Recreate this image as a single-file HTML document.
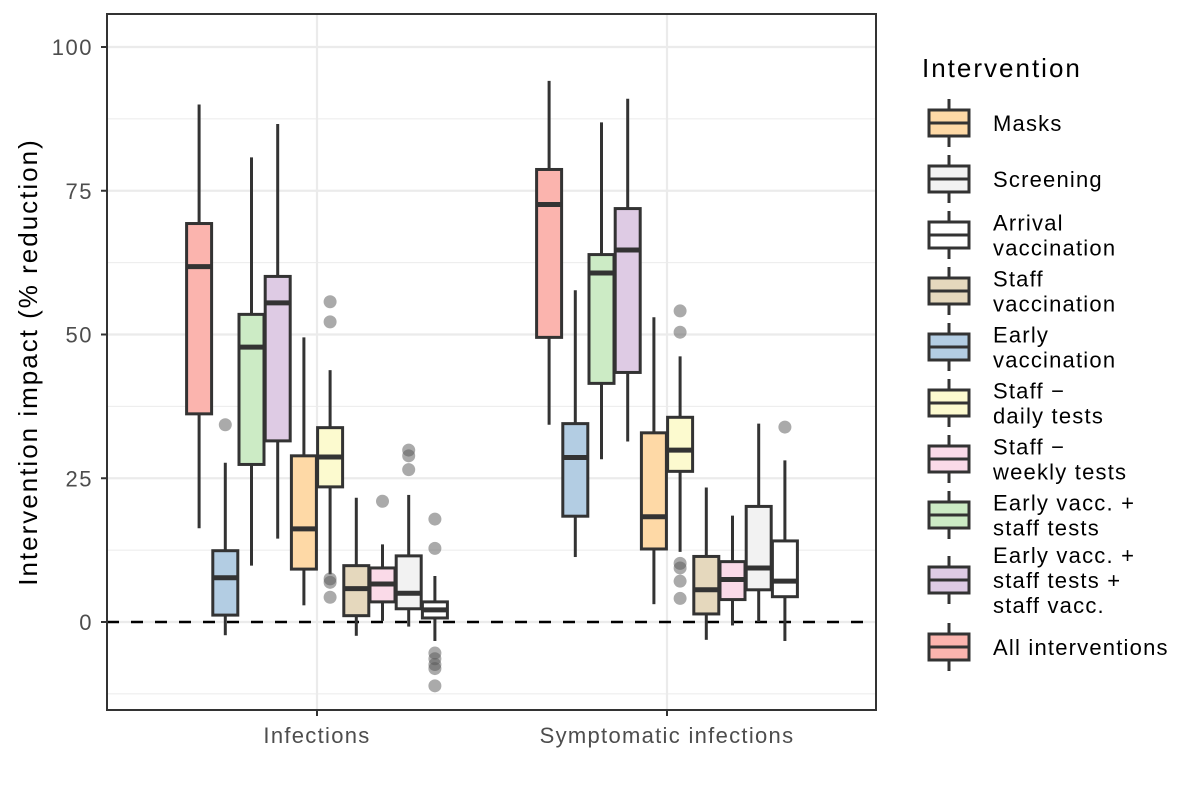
<!DOCTYPE html>
<html><head><meta charset="utf-8"><style>
body{margin:0;background:#fff;font-family:"Liberation Sans",Arial,sans-serif}
svg text{font-family:"Liberation Sans",Arial,sans-serif}
</style></head><body>
<svg id="chart" width="1200" height="800" xmlns="http://www.w3.org/2000/svg">
<rect x="0" y="0" width="1200" height="800" fill="#fff"/>
<g id="grid"></g><g id="marks"></g><g id="axes"></g><g id="legend"></g>
</svg>
<script>
const groups = ["Infections", "Symptomatic infections"];
const series = ["All interventions","Early vaccination","Early vacc. + staff tests","Early vacc. + staff tests + staff vacc.","Masks","Staff - daily tests","Staff vaccination","Staff - weekly tests","Screening","Arrival vaccination"];
const colors = ["#FBB4AE","#B3CDE3","#CCEBC5","#DECBE4","#FED9A6","#FCFACF","#E5D8BD","#FADAE8","#F2F2F2","#FFFFFF"];
// [whiskerLow, q1, median, q3, whiskerHigh]
const infectionsStats = [
 [16.3,36.2,61.8,69.3,90.0],
 [-2.3,1.2,7.7,12.4,27.7],
 [9.8,27.4,47.8,53.5,80.8],
 [14.5,31.5,55.5,60.1,86.6],
 [2.9,9.2,16.2,28.9,49.5],
 [8.3,23.5,28.7,33.8,43.8],
 [-2.4,1.1,5.8,9.8,21.6],
 [0.2,3.5,6.6,9.4,13.5],
 [-0.8,2.3,5.0,11.5,22.1],
 [-3.3,0.7,2.1,3.5,8.0]
];
const symptomaticStats = [
 [34.3,49.5,72.6,78.7,94.1],
 [11.3,18.4,28.6,34.5,57.7],
 [28.3,41.5,60.7,63.9,86.9],
 [31.4,43.4,64.7,71.9,91.0],
 [3.1,12.7,18.3,32.9,53.0],
 [12.2,26.2,29.9,35.6,46.2],
 [-3.1,1.4,5.6,11.4,23.4],
 [-0.6,3.9,7.4,10.5,18.5],
 [0.0,5.6,9.4,20.1,34.5],
 [-3.3,4.4,7.1,14.1,28.1]
];
const infectionsOutliers = [[],[34.3],[],[],[],[55.7,52.2,7.5,6.9,4.3],[],[21.0],[29.9,28.9,26.5],[17.9,12.8,-5.4,-6.4,-7.4,-8.1,-11.1]];
const symptomaticOutliers = [[],[],[],[],[],[54.1,50.4,10.2,9.4,7.1,4.1],[],[],[],[33.9]];
const yTicks = [0,25,50,75,100];
const yMinor = [-12.5,12.5,37.5,62.5,87.5];
const legendOrder = [4,8,9,6,1,5,7,2,3,0];
const legendLabels = [["Masks"],["Screening"],["Arrival","vaccination"],["Staff","vaccination"],["Early","vaccination"],["Staff \u2212","daily tests"],["Staff \u2212","weekly tests"],["Early vacc. +","staff tests"],["Early vacc. +","staff tests +","staff vacc."],["All interventions"]];

const NS="http://www.w3.org/2000/svg";
const PL=107,PR=876,PT=14,PB=710;
const y=v=>622-v*5.75;
const xGroup=g=>317+g*350;
const x=(g,i)=>xGroup(g)+(i-4.5)*26.2;
function mk(parent,tag,attrs){const e=document.createElementNS(NS,tag);for(const k in attrs)e.setAttribute(k,attrs[k]);parent.appendChild(e);return e;}
const grid=document.getElementById('grid'),marks=document.getElementById('marks'),axes=document.getElementById('axes'),legend=document.getElementById('legend');
let bg=mk(grid,'rect',{x:PL,y:PT,width:PR-PL,height:PB-PT,fill:'#fff'});


yMinor.forEach(v=>{let l=mk(grid,'line',{x1:PL,x2:PR,y1:y(v),y2:y(v),stroke:'#EBEBEB','stroke-width':1});

});
yTicks.forEach(v=>{let l=mk(grid,'line',{x1:PL,x2:PR,y1:y(v),y2:y(v),stroke:'#EBEBEB','stroke-width':2.2});

});
groups.forEach((g,gi)=>{let l=mk(grid,'line',{x1:xGroup(gi),x2:xGroup(gi),y1:PT,y2:PB,stroke:'#EBEBEB','stroke-width':2.2});

});
let zl=mk(grid,'line',{x1:PL,x2:PR,y1:y(0),y2:y(0),stroke:'#000','stroke-width':2.5,'stroke-dasharray':'12 12'});



[infectionsStats,symptomaticStats].forEach((stats,gi)=>{
 const outs=gi?symptomaticOutliers:infectionsOutliers;
 stats.forEach((s,i)=>{
  const cx=x(gi,i),w=25;
  const g=mk(marks,'g',{});
  
  
  mk(g,'line',{x1:cx,x2:cx,y1:y(s[4]),y2:y(s[3]),stroke:'#333','stroke-width':3});
  mk(g,'line',{x1:cx,x2:cx,y1:y(s[1]),y2:y(s[0]),stroke:'#333','stroke-width':3});
  mk(g,'rect',{x:cx-w/2,y:y(s[3]),width:w,height:y(s[1])-y(s[3]),fill:colors[i],stroke:'#333','stroke-width':3});
  mk(g,'line',{x1:cx-w/2,x2:cx+w/2,y1:y(s[2]),y2:y(s[2]),stroke:'#333','stroke-width':5});
  outs[i].forEach(o=>{let c=mk(marks,'circle',{cx:cx,cy:y(o),r:6.5,fill:'#555','fill-opacity':0.5});
  
  });
 });
});
let fr=mk(axes,'rect',{x:PL,y:PT,width:PR-PL,height:PB-PT,fill:'none',stroke:'#333','stroke-width':2});


yTicks.forEach(v=>{
 mk(axes,'line',{x1:PL-6,x2:PL,y1:y(v),y2:y(v),stroke:'#333','stroke-width':2});
 let t=mk(axes,'text',{x:PL-14,y:y(v)+8,'text-anchor':'end','font-size':22,'letter-spacing':1.5,fill:'#4D4D4D'});t.textContent=v;
 
 
});
groups.forEach((g,gi)=>{
 mk(axes,'line',{x1:xGroup(gi),x2:xGroup(gi),y1:PB,y2:PB+6,stroke:'#333','stroke-width':2});
 let t=mk(axes,'text',{x:xGroup(gi),y:743,'text-anchor':'middle','font-size':22,'letter-spacing':1.3,fill:'#4D4D4D'});t.textContent=g;
 
 
});
let yt=mk(axes,'text',{x:0,y:0,transform:'translate(37,362) rotate(-90)','text-anchor':'middle','font-size':26,'letter-spacing':2,fill:'#000'});
yt.textContent='Intervention impact (% reduction)';


let lt=mk(legend,'text',{x:922,y:77,'font-size':26,'letter-spacing':2,fill:'#000'});lt.textContent='Intervention';


const keyY=[123,179,235,291,347,403,459,515,580,647];
legendOrder.forEach((si,k)=>{
 const cy=keyY[k];
 const g=mk(legend,'g',{});
 
 
 mk(g,'line',{x1:949,x2:949,y1:cy-24,y2:cy+24,stroke:'#333','stroke-width':3});
 mk(g,'rect',{x:929,y:cy-13,width:40,height:26,fill:colors[si],stroke:'#333','stroke-width':3});
 mk(g,'line',{x1:929,x2:969,y1:cy,y2:cy,stroke:'#333','stroke-width':3});
 const lines=legendLabels[k];
 const start=cy+8-(lines.length-1)*12.5;
 lines.forEach((ln,j)=>{let t=mk(g,'text',{x:993,y:start+j*25,'font-size':22,'letter-spacing':1.2,fill:'#000'});t.textContent=ln;});
});
</script>
</body></html>
